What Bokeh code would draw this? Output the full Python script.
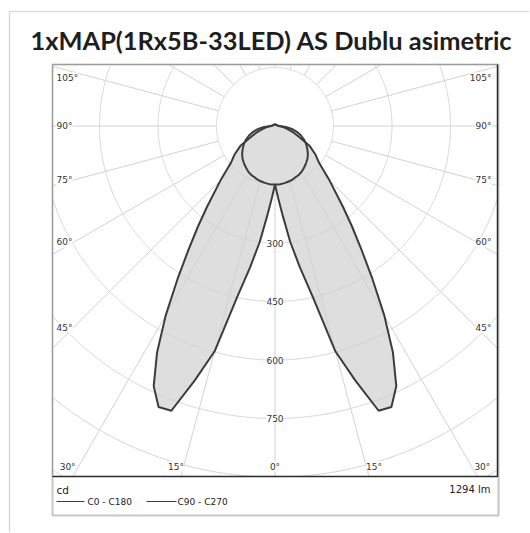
import numpy as np
from bokeh.plotting import figure
from bokeh.models import Range1d, ColumnDataSource, LabelSet
from bokeh.core.properties import value
from bokeh.embed import file_html
from bokeh.resources import INLINE

# ---------------- data ----------------
chart_title = "1xMAP(1Rx5B-33LED) AS Dublu asimetric"
gamma = [0, 2.5, 5, 7.5, 10, 12.5, 15, 17.5, 20, 22.5, 25, 27.5, 30, 32.5, 35, 37.5,
         40, 45, 50, 55, 60, 65, 70, 75, 80, 85, 90, 105, 120, 135, 150, 165, 180]
cd_c0 = [150, 185, 232, 300, 368, 450, 598, 684, 777, 780, 736, 655, 560, 465, 386, 324,
         272, 198, 148, 126, 103, 70, 52, 36, 26, 17, 10, 6, 5, 4, 4, 4, 4]
cd_c180 = [150, 185, 232, 300, 368, 450, 598, 684, 777, 780, 736, 655, 560, 465, 386, 324,
           272, 198, 148, 126, 103, 70, 52, 36, 26, 17, 10, 6, 5, 4, 4, 4, 4]
cd_c90 = [150, 150, 150, 149, 148, 147, 146, 145, 143, 141, 140, 138, 136, 133, 130, 127,
          124, 118, 110, 101, 92, 82, 71, 58, 44, 28, 10, 6, 5, 4, 4, 4, 4]
cd_c270 = [150, 150, 150, 149, 148, 147, 146, 145, 143, 141, 140, 138, 136, 133, 130, 127,
           124, 118, 110, 101, 92, 82, 71, 58, 44, 28, 10, 6, 5, 4, 4, 4, 4]
ring_cd = [150, 300, 450, 600, 750, 900, 1050, 1200]
ring_label_cd = [300, 450, 600, 750]
radial_angles = [0, 15, 30, 45, 60, 75, 90, 105, 120, 135, 150, 165, 180]
side_angle_labels = [105, 90, 75, 60, 45]
bottom_angle_labels = [30, 15, 0]
unit_text = "cd"
flux_text = "1294 lm"
legend_names = ["C0 - C180", "C90 - C270"]

# ---------------- layout (screen pixels) ----------------
W, H, M = 529, 532, 1
OXP, OYP, K = 275.5, 126.5, 0.39        # polar origin and px per cd
BL, BR, BT, BB, LB = 53, 498, 65, 477, 516


def X(px):
    return (px - OXP) / K


def Y(py):
    return (OYP - py) / K


p = figure(width=W, height=H, output_backend="svg", toolbar_location=None,
           x_range=Range1d(X(M), X(M + W)), y_range=Range1d(Y(M + H), Y(M)),
           min_border=0, x_axis_location=None, y_axis_location=None, title=None)
p.grid.visible = False
p.outline_line_color = None
p.background_fill_color = "white"
p.border_fill_color = "white"

# card border
p.line([X(10), X(10), X(560)], [Y(560), Y(12), Y(12)], line_color="#dcdcdc", line_width=1.5)

# title
p.text(x=[X(272)], y=[Y(40)], text=[chart_title], text_font=value("Lato"),
       text_font_style="bold", text_font_size=value("25.4px"), text_align="center",
       text_baseline="middle", text_color="#1e1e1e")

# lobes
g = np.radians(np.asarray(gamma, float))


def lobe(right, left):
    r = np.asarray(right, float)
    l = np.asarray(left, float)
    xs = np.concatenate([r * np.sin(g), (-l * np.sin(g))[::-1]])
    ys = np.concatenate([-r * np.cos(g), (-l * np.cos(g))[::-1]])
    return xs, ys


lobe_a = lobe(cd_c0, cd_c180)
lobe_b = lobe(cd_c90, cd_c270)
for xs, ys in (lobe_a, lobe_b):
    p.patch(xs, ys, fill_color="#dedede", line_color=None)

# grid rings, clipped to the box
xl, xr, yt, yb = X(BL), X(BR), Y(BT), Y(BB)
t = np.radians(np.arange(0, 360.001, 0.2))
rx, ry = [], []
for r in ring_cd:
    xs = r * np.sin(t)
    ys = -r * np.cos(t)
    inside = (xs >= xl) & (xs <= xr) & (ys <= yt) & (ys >= yb)
    rx.append(np.where(inside, xs, np.nan))
    ry.append(np.where(inside, ys, np.nan))
p.multi_line(rx, ry, line_color="#d2d2d2", line_width=1)

# radial lines from the first ring to the box edge
lx, ly = [], []
r0 = ring_cd[0]
for a in radial_angles:
    for s in (1, -1):
        if s == -1 and a in (0, 180):
            continue
        dx = s * np.sin(np.radians(a))
        dy = -np.cos(np.radians(a))
        tm = []
        if dx > 1e-9:
            tm.append(xr / dx)
        if dx < -1e-9:
            tm.append(xl / dx)
        if dy > 1e-9:
            tm.append(yt / dy)
        if dy < -1e-9:
            tm.append(yb / dy)
        tmax = min(tm)
        lx.append([r0 * dx, tmax * dx])
        ly.append([r0 * dy, tmax * dy])
p.multi_line(lx, ly, line_color="#d2d2d2", line_width=1)

# lobe outlines
for xs, ys in (lobe_a, lobe_b):
    p.line(list(xs) + [xs[0]], list(ys) + [ys[0]], line_color="#3c3c3c", line_width=2)

# labels
lab_x, lab_y, lab_t, lab_al = [], [], [], []
for a in side_angle_labels:
    cot = np.cos(np.radians(a)) / np.sin(np.radians(a))
    ypx = max(OYP + 201.6 * cot, BT + 13)
    lab_x += [X(57), X(492)]
    lab_y += [Y(ypx), Y(ypx)]
    lab_t += [f"{a}°", f"{a}°"]
    lab_al += ["left", "right"]
for a in bottom_angle_labels:
    off = (BB - OYP) * np.tan(np.radians(a)) + (5 if a else 0)
    if a == 0:
        lab_x += [X(OXP)]
        lab_y += [Y(467)]
        lab_t += ["0°"]
        lab_al += ["center"]
    else:
        lab_x += [X(OXP - off), X(OXP + off)]
        lab_y += [Y(467), Y(467)]
        lab_t += [f"{a}°", f"{a}°"]
        lab_al += ["center", "center"]
for v in ring_label_cd:
    lab_x.append(0)
    lab_y.append(-v)
    lab_t.append(str(v))
    lab_al.append("center")

src = ColumnDataSource(dict(x=lab_x, y=lab_y, t=lab_t, al=lab_al))
p.add_layout(LabelSet(x="x", y="y", text="t", source=src, text_align="al",
                      text_baseline="middle", text_font=value("DejaVu Sans"),
                      text_font_size=value("9px"), text_color="#333333",
                      background_fill_color="white"))

# image frame
p.quad(left=[X(BL)], right=[X(BR + 1)], top=[Y(BT)], bottom=[Y(LB)],
       fill_color=None, line_color="#c6c6c6", line_width=2)
p.line([X(BL), X(BL), X(BR)], [Y(BB), Y(BT), Y(BT)], line_color="#9c9c9c", line_width=1)
p.line([X(BR), X(BR), X(BL)], [Y(BT), Y(BB), Y(BB)], line_color="#2a2a2a", line_width=1.5)

# legend area
p.text(x=[X(57)], y=[Y(490)], text=[unit_text], text_font=value("DejaVu Sans"),
       text_font_size=value("10.5px"), text_align="left", text_baseline="middle",
       text_color="#222222")
p.text(x=[X(491)], y=[Y(490)], text=[flux_text], text_font=value("DejaVu Sans"),
       text_font_size=value("10px"), text_align="right", text_baseline="middle",
       text_color="#222222")
p.multi_line([[X(57), X(85)], [X(147), X(177)]], [[Y(502), Y(502)], [Y(502), Y(502)]],
             line_color="#3c3c3c", line_width=1)
p.text(x=[X(88), X(178)], y=[Y(502), Y(502)], text=legend_names,
       text_font=value("DejaVu Sans"), text_font_size=value("9px"), text_align="left",
       text_baseline="middle", text_color="#222222")

open("out.html", "w").write(file_html(p, INLINE))
